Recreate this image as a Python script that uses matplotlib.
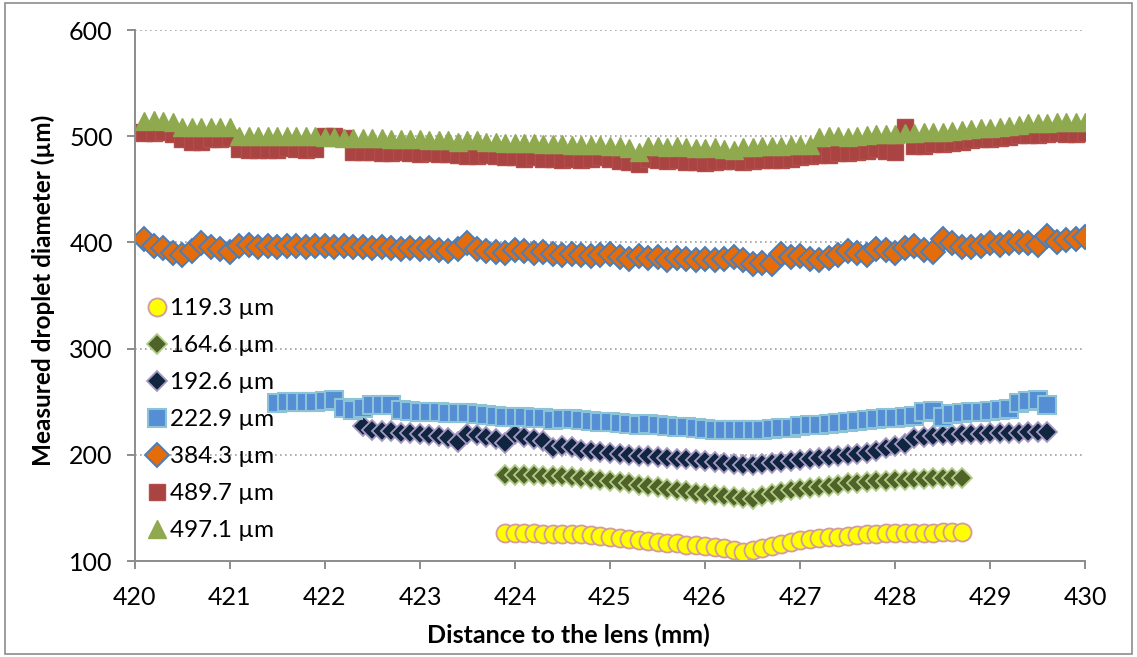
import numpy as np
import matplotlib
matplotlib.use('Agg')
from matplotlib import pyplot as plt
from matplotlib.patches import Rectangle

plt.rcParams['font.family'] = ['Lato', 'DejaVu Sans']

# diametros medidos (um) a cada 0.1 mm
d119 = [126, 126, 126, 126, 125.5, 125.5, 125.5, 125, 125, 124.5,
        124, 123, 122, 121, 120, 119, 118, 117, 116.5, 115.5,
        115, 114, 113, 112, 110.5, 108.5, 110, 112, 114, 116,
        118, 119.5, 120.5, 121.5, 122.5, 123, 124, 124.5, 125, 125.5,
        126, 126, 126, 126.5, 126.5, 126.5, 127, 127, 127]
d164 = [181, 181, 181, 181, 180.5, 180, 180, 179, 178.5, 177.5,
        176, 175, 174, 173, 172, 171, 170, 168, 167, 165.5,
        164, 163, 162, 161, 160, 159, 158.5, 161, 163, 165,
        166.5, 168, 169, 170, 171, 172, 173, 173.5, 174, 175,
        175.5, 176, 176.5, 177, 177.5, 178, 178, 178.5, 178.5]
d192 = [227, 223, 222, 222, 221, 221, 220, 219, 218, 216,
        212, 220, 219, 217, 215, 211, 220, 217, 215, 213,
        206, 208, 207, 205, 204, 203, 202, 201, 200, 199,
        198.5, 198, 197, 196.5, 196, 195, 194, 193, 192, 191,
        190.5, 190.5, 191, 192, 193, 194, 195, 196, 197, 198,
        199, 200, 201, 202, 204, 206, 208, 210, 216, 217,
        218, 218.5, 219, 219.5, 220, 220, 220.5, 221, 221, 221,
        221.5, 221.5, 221.5]
d222 = [249, 249.5, 250, 250, 250, 251, 252, 244, 242, 244,
        247, 247, 247, 242, 241, 240.5, 240, 240, 239.5, 239,
        239, 238, 237.5, 237, 236, 236, 235.5, 235, 234.5, 233,
        234, 234, 233, 232, 231, 231, 230, 229, 228, 229,
        228, 227, 226.5, 226, 225, 224, 223.5, 223, 223, 223,
        223, 223.5, 224, 225, 225.5, 227, 228, 228.5, 229, 230,
        231, 232, 233, 234, 235, 235, 236, 237, 240, 241,
        236, 238, 239, 240, 240, 241, 242, 243, 249, 251,
        252, 247]
d384 = [403, 397, 395, 390, 388, 392, 399, 396, 394, 391,
        397, 398, 396, 397, 396, 397, 397, 396, 397, 397,
        396, 397, 396, 396, 395, 396, 395, 394, 395, 394,
        395, 393, 392, 394, 399, 394, 392, 391, 390, 393,
        392, 390, 391, 389, 388, 389, 388, 387, 388, 389,
        386, 384, 387, 385, 386, 383, 385, 384, 383, 384,
        383, 384, 386, 383, 380, 381, 380, 389, 386, 387,
        384, 383, 385, 388, 392, 390, 388, 394, 393, 390,
        395, 397, 393, 391, 403, 399, 396, 396, 397, 399,
        398, 399, 400, 399, 398, 406, 400, 402, 403, 405]
d489 = [504, 503, 503, 504, 502, 497, 495, 495, 497, 497,
        498, 488, 487, 487, 487, 487, 489, 488, 487, 488,
        500, 500, 498, 485, 485, 485, 484, 484, 485, 484,
        483, 484, 483, 483, 482, 481, 481, 482, 481, 480,
        480, 479, 480, 479, 479, 478, 479, 478, 479, 480,
        479, 477, 476, 474, 479, 478, 477, 478, 476, 476,
        475, 476, 477, 477, 476, 477, 478, 478, 478, 479,
        480, 481, 482, 482, 484, 484, 485, 486, 488, 486,
        485, 509, 491, 491, 493, 493, 494, 495, 496, 497,
        497, 498, 499, 501, 501, 501, 502, 503, 502, 502,
        503]
d497 = [514, 515, 514, 513, 509, 509, 509, 509, 509, 509,
        500, 500, 500, 500, 500, 500, 500, 500, 500, 499,
        499, 498, 498, 498, 498, 498, 497, 497, 497, 497,
        496, 496, 496, 495, 496, 496, 495, 495, 494, 494,
        494, 494, 493, 493, 493, 492, 492, 492, 492, 491,
        491, 489, 485, 491, 491, 490, 491, 490, 489, 489,
        490, 488, 487, 490, 490, 491, 491, 491, 492, 492,
        492, 499, 500, 500, 499, 500, 501, 502, 502, 502,
        503, 503, 504, 504, 504, 505, 506, 507, 508, 508,
        509, 510, 511, 512, 512, 512, 513, 513, 513, 513]

x119 = np.round(np.arange(len(d119)) * 0.1 + 423.9, 1)
x164 = np.round(np.arange(len(d164)) * 0.1 + 423.9, 1)
x192 = np.round(np.arange(len(d192)) * 0.1 + 422.4, 1)
x222 = np.round(np.arange(len(d222)) * 0.1 + 421.5, 1)
x384 = np.round(np.arange(len(d384)) * 0.1 + 420.1, 1)
x489 = np.round(np.arange(len(d489)) * 0.1 + 420.0, 1)
x497 = np.round(np.arange(len(d497)) * 0.1 + 420.1, 1)

fig = plt.figure(figsize=(11.37, 6.57), dpi=100)
ax = fig.add_axes([0.1187, 0.1461, 0.8356, 0.8082])

ax.plot(x119, d119, 'o', ms=13, mfc='#FFFF00', mec='#D49A9C', mew=1.3, label='119.3 µm')
ax.plot(x164, d164, 'D', ms=10.5, mfc='#4F6228', mec='#B2CC8A', mew=1.3, label='164.6 µm')
ax.plot(x192, d192, 'D', ms=10.5, mfc='#10253F', mec='#A699C4', mew=1.3, label='192.6 µm')
ax.plot(x222, d222, 's', ms=12.5, mfc='#558ED5', mec='#8CC3D6', mew=1.5, label='222.9 µm')
ax.plot(x384, d384, 'D', ms=12, mfc='#E46C0A', mec='#4A7EBB', mew=1.4, label='384.3 µm')
ax.plot(x489, d489, 's', ms=12, mfc='#A94442', mec='#B24D4A', mew=1.0, label='489.7 µm')
ax.plot(x497, d497, '^', ms=13.5, mfc='#8EA94E', mec='#8EA94E', mew=1.0, label='497.1 µm')

ax.set_xlim(420, 430)
ax.set_ylim(100, 600)
ax.set_xticks(range(420, 431))
ax.set_yticks(range(100, 601, 100))
ax.yaxis.grid(True, linestyle=(0, (1, 2)), color='#A0A0A0', linewidth=1.2)
ax.set_axisbelow(True)
for s in ['top', 'right']:
    ax.spines[s].set_visible(False)
for s in ['left', 'bottom']:
    ax.spines[s].set_color('#8C8C8C')
    ax.spines[s].set_linewidth(1.4)
ax.tick_params(axis='both', which='major', direction='out', length=6, width=1.4,
               color='#8C8C8C', labelsize=18, pad=10)
ax.tick_params(axis='x', pad=12)

ax.set_xlabel('Distance to the lens (mm)', fontsize=18, fontweight='bold')
ax.set_ylabel('Measured droplet diameter (µm)', fontsize=17.5, fontweight='bold')
ax.xaxis.set_label_coords(0.456, -0.118)
ax.yaxis.set_label_coords(-0.084, 0.51)

leg = ax.legend(loc='center left', bbox_to_anchor=(0.0, 0.266), frameon=False, fontsize=17.5,
                handletextpad=0.05, handlelength=1.0, labelspacing=0.66, borderaxespad=0.0)

fig.patches.append(Rectangle((0.004, 0.004), 0.992, 0.992, transform=fig.transFigure,
                             fill=False, edgecolor='#8C8C8C', linewidth=1.2))

fig.savefig('out.png', dpi=100)
